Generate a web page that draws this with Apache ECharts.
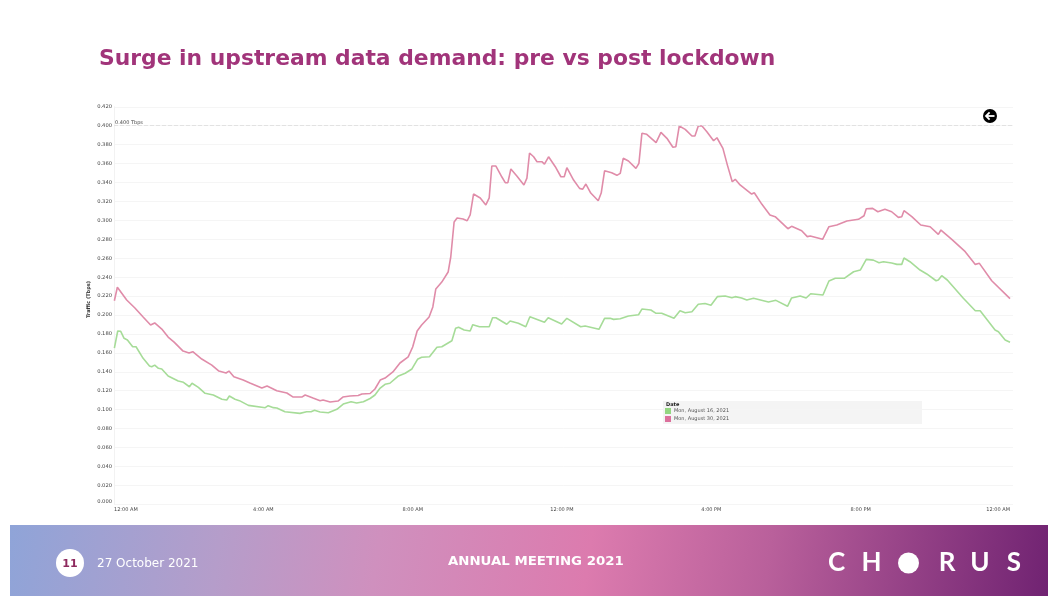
<!DOCTYPE html>
<html>
<head>
<meta charset="utf-8">
<title>Surge in upstream data demand</title>
<script src="https://cdn.jsdelivr.net/npm/echarts@6/dist/echarts.min.js"></script>
<style>
  html, body { margin: 0; padding: 0; background: #fff; }
  #chart { width: 1048px; height: 596px; }
</style>
</head>
<body>
<div id="chart"></div>
<script>
// hour of day and traffic in Tbps, one pair of lists per day
const preName = 'Mon, August 16, 2021';
const postName = 'Mon, August 30, 2021';

const preHours = [0.01,0.10,0.18,0.27,0.36,0.50,0.59,0.78,0.95,1.01,1.09,1.19,1.28,1.45,1.72,1.86,2.02,2.09,2.26,2.44,2.66,2.89,3.02,3.09,3.24,3.36,3.60,4.05,4.13,4.27,4.36,4.58,4.98,5.16,5.28,5.37,5.52,5.74,5.97,6.14,6.35,6.50,6.68,6.86,6.99,7.13,7.26,7.39,7.62,7.80,7.98,8.13,8.24,8.45,8.65,8.78,9.05,9.15,9.23,9.38,9.54,9.61,9.79,10.05,10.14,10.23,10.52,10.61,10.83,11.03,11.14,11.53,11.63,11.99,12.13,12.50,12.62,12.99,13.14,13.29,13.38,13.56,13.78,14.05,14.14,14.38,14.52,14.67,15.00,15.16,15.30,15.48,15.65,15.83,15.99,16.16,16.37,16.55,16.64,16.81,16.95,17.13,17.53,17.73,18.04,18.15,18.38,18.54,18.66,18.99,19.15,19.32,19.56,19.81,19.99,20.15,20.34,20.49,20.61,20.83,20.97,21.10,21.16,21.32,21.59,21.77,22.02,22.08,22.17,22.32,22.75,23.07,23.20,23.60,23.69,23.87,24.00];
const preValues = [0.1651,0.1831,0.1828,0.1754,0.1736,0.1665,0.1665,0.1542,0.1461,0.1454,0.1471,0.1437,0.1430,0.1356,0.1302,0.1289,0.1242,0.1279,0.1236,0.1173,0.1155,0.1110,0.1102,0.1144,0.1110,0.1095,0.1045,0.1021,0.1042,0.1021,0.1018,0.0978,0.0961,0.0978,0.0978,0.0993,0.0975,0.0967,0.1004,0.1059,0.1084,0.1071,0.1084,0.1118,0.1155,0.1228,0.1268,0.1279,0.1356,0.1385,0.1430,0.1532,0.1553,0.1559,0.1659,0.1665,0.1728,0.1860,0.1871,0.1842,0.1831,0.1898,0.1876,0.1876,0.1971,0.1971,0.1902,0.1937,0.1912,0.1876,0.1982,0.1923,0.1971,0.1905,0.1965,0.1876,0.1884,0.1849,0.1965,0.1965,0.1954,0.1961,0.1990,0.2003,0.2063,0.2053,0.2018,0.2018,0.1965,0.2045,0.2024,0.2035,0.2113,0.2121,0.2103,0.2194,0.2201,0.2183,0.2194,0.2180,0.2159,0.2177,0.2137,0.2155,0.2092,0.2180,0.2201,0.2180,0.2225,0.2211,0.2359,0.2388,0.2388,0.2457,0.2475,0.2588,0.2580,0.2553,0.2563,0.2549,0.2535,0.2535,0.2602,0.2563,0.2475,0.2434,0.2362,0.2370,0.2415,0.2370,0.2177,0.2045,0.2045,0.1842,0.1824,0.1736,0.1712];

const postHours = [0.01,0.09,0.34,0.56,0.78,0.98,1.09,1.28,1.45,1.61,1.85,2.01,2.11,2.35,2.62,2.81,3.00,3.08,3.21,3.46,3.64,3.96,4.10,4.36,4.63,4.80,5.03,5.12,5.33,5.52,5.60,5.79,6.00,6.13,6.32,6.54,6.64,6.86,6.99,7.13,7.26,7.47,7.66,7.88,8.00,8.12,8.24,8.44,8.54,8.62,8.78,8.95,9.02,9.11,9.19,9.35,9.46,9.54,9.63,9.81,9.96,10.05,10.12,10.23,10.39,10.48,10.55,10.63,10.79,10.98,11.06,11.13,11.24,11.33,11.46,11.53,11.64,11.82,11.97,12.06,12.13,12.31,12.47,12.55,12.64,12.77,12.97,13.05,13.14,13.33,13.47,13.56,13.64,13.78,13.98,14.06,14.14,14.27,14.52,14.65,14.81,14.97,15.05,15.14,15.30,15.48,15.56,15.65,15.75,15.88,16.06,16.15,16.31,16.43,16.56,16.64,16.77,17.08,17.15,17.35,17.57,17.71,18.05,18.15,18.42,18.57,18.65,18.98,19.15,19.36,19.63,19.94,20.09,20.15,20.32,20.46,20.65,20.83,21.01,21.10,21.16,21.37,21.61,21.86,22.08,22.15,22.44,22.80,23.07,23.18,23.51,24.00];
const postValues = [0.2151,0.2293,0.2159,0.2074,0.1979,0.1894,0.1916,0.1852,0.1767,0.1714,0.1619,0.1598,0.1612,0.1535,0.1471,0.1408,0.1387,0.1408,0.1348,0.1313,0.1282,0.1228,0.1250,0.1200,0.1176,0.1133,0.1133,0.1155,0.1123,0.1095,0.1102,0.1081,0.1091,0.1133,0.1144,0.1149,0.1165,0.1171,0.1218,0.1313,0.1334,0.1398,0.1493,0.1557,0.1662,0.1831,0.1894,0.1979,0.2085,0.2275,0.2348,0.2454,0.2613,0.2983,0.3025,0.3014,0.2996,0.3057,0.3278,0.3237,0.3163,0.3237,0.3574,0.3574,0.3458,0.3398,0.3398,0.3543,0.3469,0.3374,0.3447,0.3712,0.3672,0.3620,0.3620,0.3595,0.3672,0.3567,0.3461,0.3461,0.3557,0.3426,0.3338,0.3328,0.3384,0.3289,0.3208,0.3289,0.3524,0.3503,0.3476,0.3497,0.3656,0.3627,0.3550,0.3603,0.3920,0.3909,0.3821,0.3930,0.3867,0.3772,0.3778,0.3997,0.3962,0.3892,0.3892,0.3997,0.3997,0.3937,0.3841,0.3873,0.3761,0.3584,0.3408,0.3434,0.3374,0.3278,0.3292,0.3172,0.3057,0.3039,0.2912,0.2937,0.2891,0.2828,0.2835,0.2800,0.2933,0.2951,0.2994,0.3011,0.3049,0.3123,0.3127,0.3091,0.3117,0.3091,0.3032,0.3039,0.3102,0.3039,0.2951,0.2933,0.2852,0.2898,0.2800,0.2669,0.2535,0.2546,0.2362,0.2173];

const xTicks = [0, 4, 8, 12, 16, 20, 24];
const xTickLabels = ['12:00 AM', '4:00 AM', '8:00 AM', '12:00 PM', '4:00 PM', '8:00 PM', '12:00 AM'];
const refLine = 0.4;

function pairs(xs, ys) {
  return xs.map((x, i) => [x, ys[i]]);
}

const sansFont = '"DejaVu Sans", sans-serif';
const footerColors = [
  {offset: 0, color: '#8fa4d8'},
  {offset: 0.2, color: '#b59dca'},
  {offset: 0.35, color: '#cf90be'},
  {offset: 0.55, color: '#dc7bae'},
  {offset: 0.72, color: '#b9609b'},
  {offset: 1, color: '#6d2070'}
];
const logoFont = 'bold 26px Lato, sans-serif';

const chart = echarts.init(document.getElementById('chart'), null, {renderer: 'canvas'});

chart.setOption({
  animation: false,
  backgroundColor: '#fff',
  textStyle: {fontFamily: sansFont},
  grid: {left: 114, top: 106.8, width: 899, height: 397.5, containLabel: false},
  xAxis: {
    type: 'value',
    min: 0,
    max: 24.08,
    splitLine: {show: false},
    axisLine: {show: false},
    axisTick: {show: false},
    axisLabel: {
      customValues: xTicks,
      formatter: v => xTickLabels[xTicks.indexOf(v)],
      fontSize: 5,
      color: '#444',
      margin: 3,
      alignMinLabel: 'left',
      alignMaxLabel: 'right'
    }
  },
  yAxis: {
    type: 'value',
    min: 0,
    max: 0.42,
    interval: 0.02,
    name: 'Traffic (Tbps)',
    nameLocation: 'middle',
    nameGap: 23,
    nameMoveOverlap: false,
    nameTextStyle: {fontSize: 5, fontWeight: 'bold', color: '#333', padding: [0, 0, 0, 12]},
    axisLine: {show: true, lineStyle: {color: '#f2f2f2'}},
    axisTick: {show: false},
    axisLabel: {
      formatter: v => v.toFixed(3),
      fontSize: 5.2,
      color: '#444',
      margin: 2,
      verticalAlignMinLabel: 'bottom'
    },
    splitLine: {lineStyle: {color: '#f5f5f5', width: 1}}
  },
  legend: {
    left: 665,
    top: 408,
    orient: 'vertical',
    icon: 'rect',
    itemWidth: 6,
    itemHeight: 6,
    itemGap: 2,
    padding: 0,
    textStyle: {fontSize: 5, color: '#555', padding: [0, 0, 0, -2]},
    data: [preName, postName]
  },
  series: [
    {
      name: preName,
      type: 'line',
      showSymbol: false,
      lineStyle: {width: 1.6, color: '#a6dc98'},
      itemStyle: {color: '#93d681'},
      data: pairs(preHours, preValues),
      z: 3
    },
    {
      name: postName,
      type: 'line',
      showSymbol: false,
      lineStyle: {width: 1.6, color: '#e08ca9'},
      itemStyle: {color: '#dc709c'},
      data: pairs(postHours, postValues),
      z: 3,
      markLine: {
        silent: true,
        symbol: 'none',
        animation: false,
        lineStyle: {color: '#e2e2e2', type: 'dashed', width: 1},
        label: {
          position: 'insideStartTop',
          formatter: '0.400 Tbps',
          fontSize: 5,
          color: '#444',
          distance: 1
        },
        data: [{yAxis: refLine}]
      }
    }
  ],
  graphic: [
    // slide title
    {
      type: 'text', x: 99, y: 49, scaleX: 1.04, z: 10,
      style: {text: 'Surge in upstream data demand: pre vs post lockdown', fill: '#a1347a',
        font: 'bold 21px "DejaVu Sans", sans-serif'}
    },
    // back arrow
    {type: 'circle', shape: {cx: 990, cy: 116, r: 7}, style: {fill: '#000'}, z: 10},
    {type: 'polyline', shape: {points: [[989.6, 112.4], [986, 116], [989.6, 119.6]]},
      style: {stroke: '#fff', lineWidth: 1.8, fill: null}, z: 11},
    {type: 'line', shape: {x1: 986.5, y1: 116, x2: 994.5, y2: 116},
      style: {stroke: '#fff', lineWidth: 1.8}, z: 11},
    // legend box
    {type: 'rect', shape: {x: 663, y: 401, width: 259, height: 23}, style: {fill: '#f4f4f4'}, z: 0},
    {type: 'text', x: 666, y: 402, z: 10,
      style: {text: 'Date', fill: '#222', font: 'bold 5px "DejaVu Sans", sans-serif'}},
    // footer band
    {
      type: 'rect', shape: {x: 10, y: 525, width: 1038, height: 71}, z: 5,
      style: {fill: new echarts.graphic.LinearGradient(10, 525, 1048, 680, footerColors, true)}
    },
    {type: 'circle', shape: {cx: 70, cy: 563, r: 14}, style: {fill: '#fff'}, z: 10},
    {type: 'text', x: 70, y: 564, z: 11,
      style: {text: '11', fill: '#8e2a5e', align: 'center', verticalAlign: 'middle',
        font: 'bold 11px "DejaVu Sans", sans-serif'}},
    {type: 'text', x: 97, y: 564, z: 10,
      style: {text: '27 October 2021', fill: '#fff', verticalAlign: 'middle',
        font: '12px "DejaVu Sans", sans-serif'}},
    {type: 'text', x: 448, y: 556, scaleX: 1.11, z: 10,
      style: {text: 'ANNUAL MEETING 2021', fill: '#fff',
        font: 'bold 12px "DejaVu Sans", sans-serif'}},
    // logo, the O is a solid dot
    {type: 'text', x: 836.5, y: 563, z: 10, style: {text: 'C', fill: '#fff', align: 'center', verticalAlign: 'middle', font: logoFont}},
    {type: 'text', x: 871.5, y: 563, z: 10, style: {text: 'H', fill: '#fff', align: 'center', verticalAlign: 'middle', font: logoFont}},
    {type: 'circle', shape: {cx: 908.5, cy: 563, r: 10.5}, style: {fill: '#fff'}, z: 10},
    {type: 'text', x: 947, y: 563, z: 10, style: {text: 'R', fill: '#fff', align: 'center', verticalAlign: 'middle', font: logoFont}},
    {type: 'text', x: 980, y: 563, z: 10, style: {text: 'U', fill: '#fff', align: 'center', verticalAlign: 'middle', font: logoFont}},
    {type: 'text', x: 1014, y: 563, z: 10, style: {text: 'S', fill: '#fff', align: 'center', verticalAlign: 'middle', font: logoFont}}
  ]
});
</script>
</body>
</html>
